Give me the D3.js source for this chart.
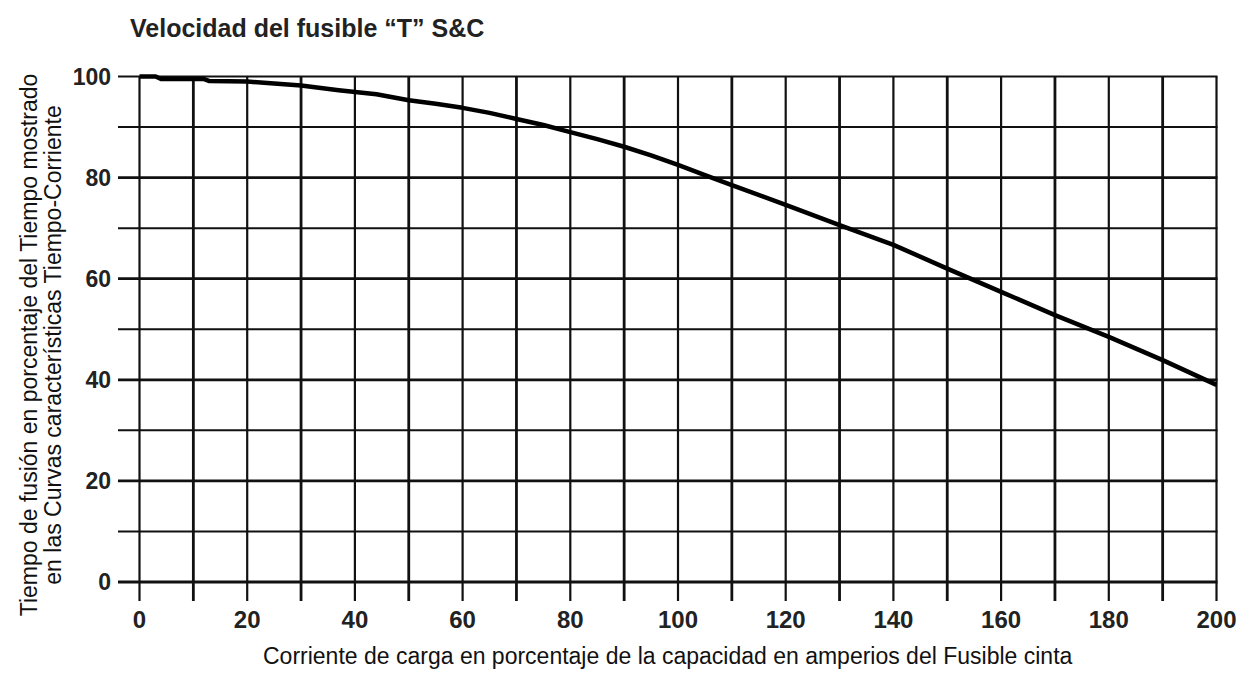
<!DOCTYPE html>
<html>
<head>
<meta charset="utf-8">
<script src="https://cdn.jsdelivr.net/npm/d3@7"></script>
<style>
  html, body { margin: 0; padding: 0; background: #fff; }
  svg { display: block; }
</style>
</head>
<body>
<svg id="chart" width="1245" height="675"></svg>
<script>
// Load current (% of fuse-link ampere rating)
const currentPct = [0, 3, 4, 12, 13, 20, 25, 30, 37, 44, 50, 55, 60, 65, 70, 75, 80, 85, 90, 95, 100, 105, 110, 120, 130, 140, 150, 160, 170, 180, 190, 200];
// Melting time (% of the time shown on the time-current curves)
const meltTimePct = [100, 100, 99.5, 99.5, 99.1, 99, 98.6, 98.2, 97.3, 96.5, 95.3, 94.6, 93.8, 92.8, 91.6, 90.4, 89, 87.6, 86.1, 84.4, 82.5, 80.5, 78.5, 74.6, 70.6, 66.7, 62, 57.4, 52.8, 48.5, 43.9, 39];

const xTickLabels = [0, 20, 40, 60, 80, 100, 120, 140, 160, 180, 200];
const yTickLabels = [0, 20, 40, 60, 80, 100];
const xGridValues = d3.range(0, 201, 10);
const yGridValues = d3.range(0, 101, 10);

const titleText = "Velocidad del fusible \u201CT\u201D S&C";
const xTitle = "Corriente de carga en porcentaje de la capacidad en  amperios del Fusible cinta";
const yTitleLines = ["Tiempo de fusión en porcentaje del Tiempo mostrado", "en las Curvas características Tiempo-Corriente"];

const svg = d3.select("#chart");
const font = "'Liberation Sans', Arial, sans-serif";

const x = d3.scaleLinear().domain([0, 200]).range([139.5, 1216.5]);
const y = d3.scaleLinear().domain([0, 100]).range([582, 76.5]);

// Title
svg.append("text")
  .attr("x", 130).attr("y", 37)
  .attr("font-family", font).attr("font-weight", "bold").attr("font-size", 25)
  .attr("fill", "#222")
  .text(titleText);

// Horizontal grid lines (extend left of the plot as tick marks)
svg.append("g").selectAll("line").data(yGridValues).join("line")
  .attr("x1", 118).attr("x2", x(200) + 1)
  .attr("y1", d => y(d)).attr("y2", d => y(d))
  .attr("stroke", "#111")
  .attr("stroke-width", d => (d % 20 === 0 && d !== 100) ? 2.8 : 2);

// Vertical grid lines (extend below the zero line as tick marks)
svg.append("g").selectAll("line").data(xGridValues).join("line")
  .attr("x1", d => x(d)).attr("x2", d => x(d))
  .attr("y1", y(100)).attr("y2", 601)
  .attr("stroke", "#111")
  .attr("stroke-width", d => (d % 20 === 10) ? 2.8 : 2.2);

// Y tick labels
svg.append("g").selectAll("text").data(yTickLabels).join("text")
  .attr("x", 111).attr("y", d => y(d))
  .attr("dy", "0.36em")
  .attr("text-anchor", "end")
  .attr("font-family", font).attr("font-weight", "bold").attr("font-size", 23)
  .attr("fill", "#222")
  .text(d => d);

// X tick labels
svg.append("g").selectAll("text").data(xTickLabels).join("text")
  .attr("x", d => x(d)).attr("y", 628)
  .attr("text-anchor", "middle")
  .attr("font-family", font).attr("font-weight", "bold").attr("font-size", 24)
  .attr("fill", "#222")
  .text(d => d);

// Melting-time curve
const line = d3.line()
  .x((d, i) => x(currentPct[i]))
  .y(d => y(d));
svg.append("path")
  .datum(meltTimePct)
  .attr("d", line)
  .attr("fill", "none")
  .attr("stroke", "#000")
  .attr("stroke-width", 4.5)
  .attr("stroke-linejoin", "round");

// Axis titles
svg.append("text")
  .attr("x", 263).attr("y", 664)
  .attr("font-family", font).attr("font-size", 23)
  .attr("fill", "#111")
  .text(xTitle);

const yTitle = svg.append("g").attr("transform", "translate(0,345) rotate(-90)");
yTitle.selectAll("text").data(yTitleLines).join("text")
  .attr("x", 0).attr("y", (d, i) => 37 + i * 24)
  .attr("text-anchor", "middle")
  .attr("font-family", font).attr("font-size", 23)
  .attr("fill", "#111")
  .text(d => d);
</script>
</body>
</html>
